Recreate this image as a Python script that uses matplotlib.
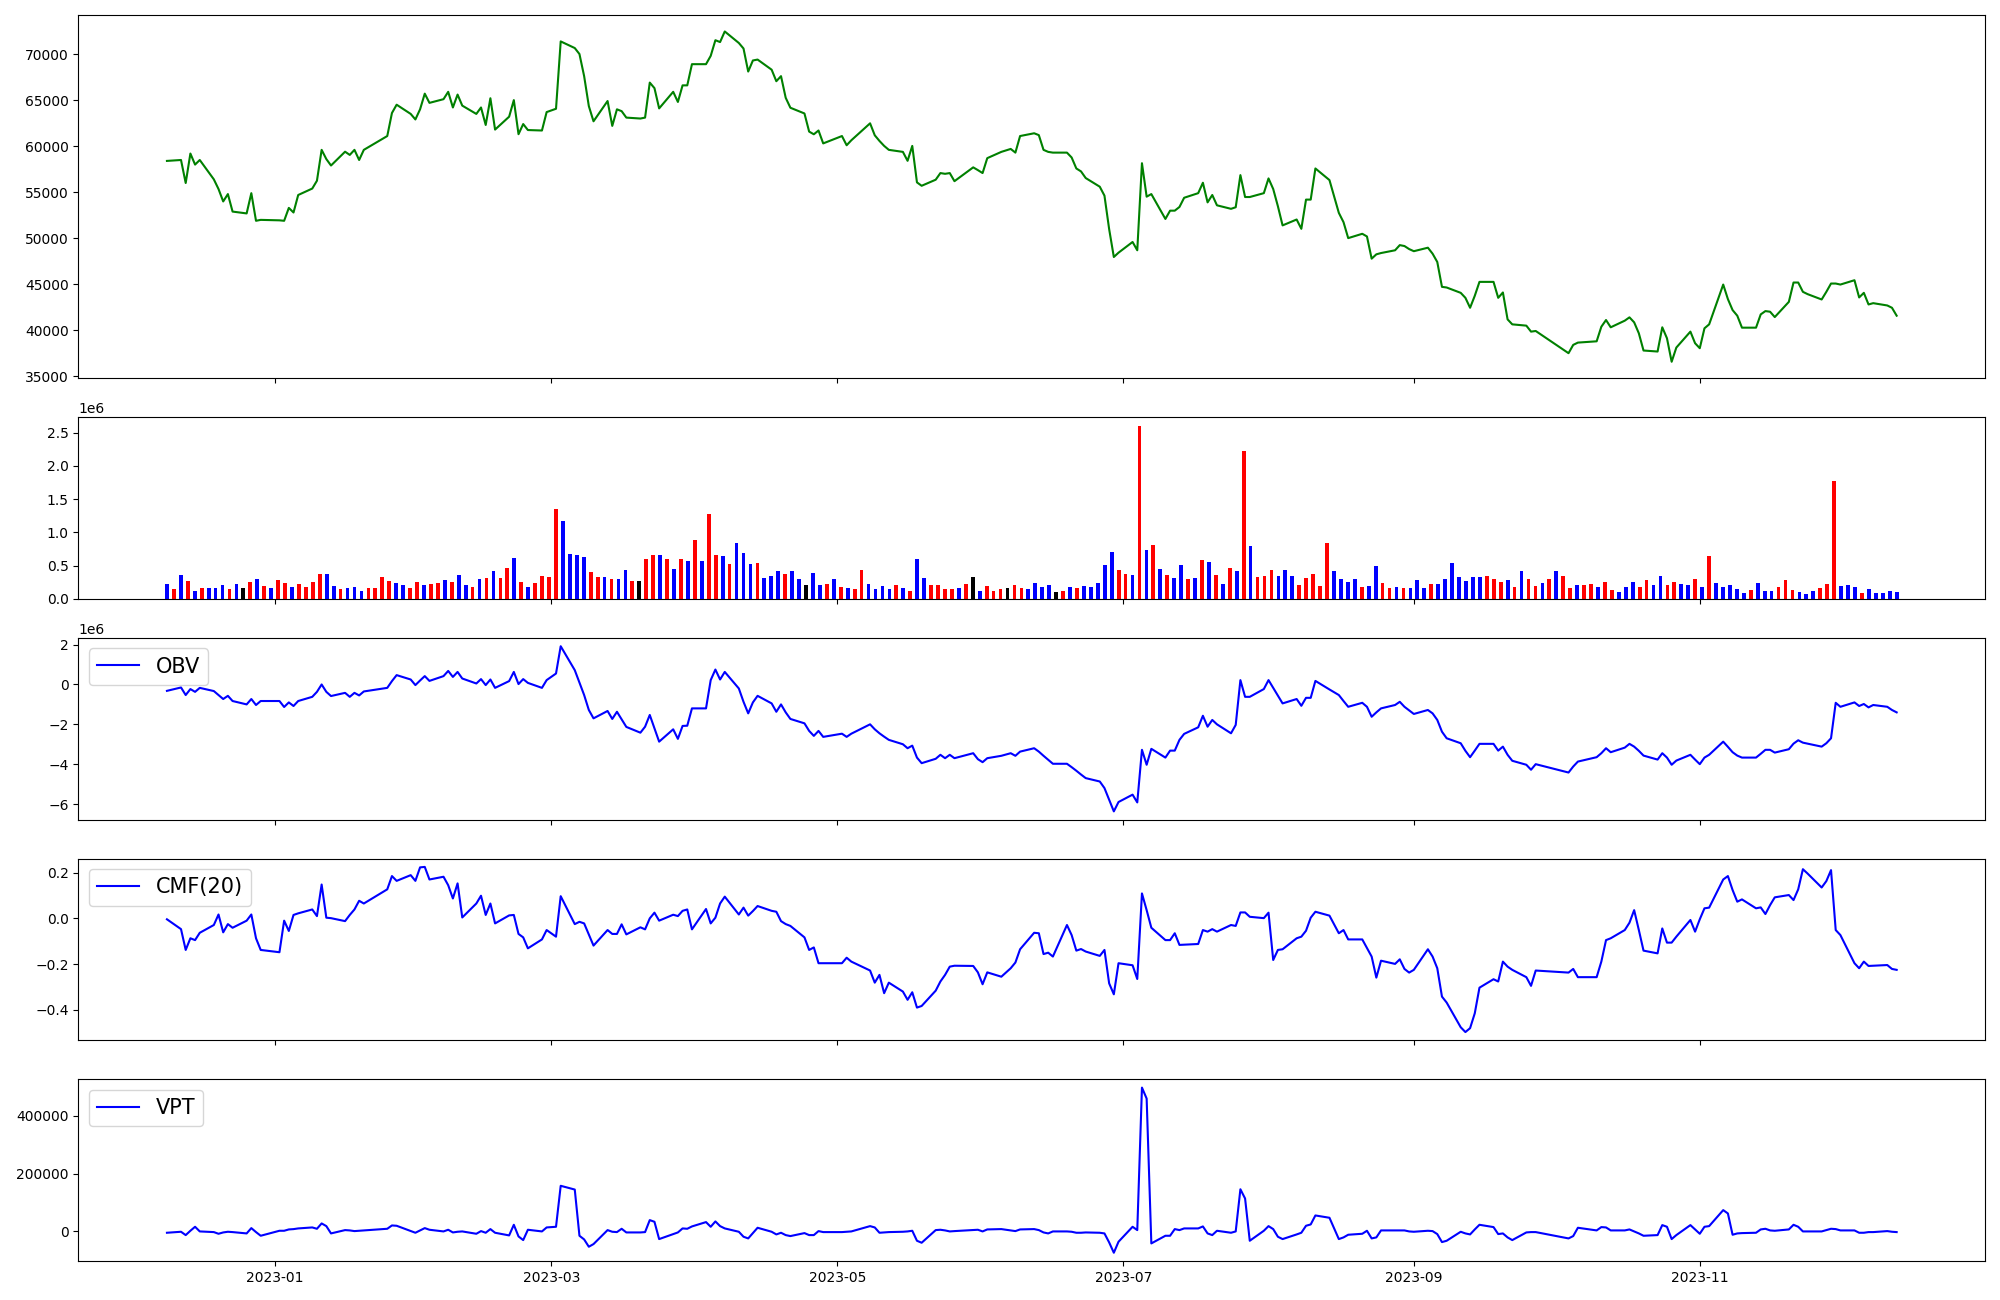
"""Price / volume / OBV / CMF / VPT panel chart."""

import numpy as np
import pandas as pd
import matplotlib
matplotlib.use("Agg")
import matplotlib.pyplot as plt

# ---------------------------------------------------------------------------
# Trading calendar (KRX, 2022-12-09 .. 2023-12-13)
# ---------------------------------------------------------------------------
START, END = "2022-12-09", "2023-12-13"
HOLIDAYS = ["2022-12-30", "2023-01-23", "2023-01-24", "2023-03-01",
            "2023-05-01", "2023-05-05", "2023-05-29", "2023-06-06",
            "2023-08-15", "2023-09-28", "2023-09-29", "2023-10-02",
            "2023-10-03", "2023-10-09"]
dates = pd.bdate_range(START, END)
dates = dates[~dates.isin(pd.to_datetime(HOLIDAYS))]

# ---------------------------------------------------------------------------
# Series
# ---------------------------------------------------------------------------
close = [
    58400, 58500, 56000, 59200, 58000, 58500, 56400, 55350, 54000, 54800,
    52900, 52700, 54900, 51900, 52000, 51950, 51900, 53300, 52800, 54700,
    55400, 56250, 59600, 58600, 57900, 59400, 59050, 59600, 58500, 59600,
    61100, 63600, 64500, 63500, 62900, 64000, 65700, 64700, 65100, 65900,
    64200, 65600, 64400, 63500, 64200, 62300, 65200, 61800, 63200, 65000,
    61300, 62400, 61750, 61700, 63700, 64060, 71370, 70650, 70000, 67600,
    64350, 62700, 64900, 62200, 64000, 63800, 63100, 63000, 63100, 66900,
    66300, 64100, 65900, 64800, 66600, 66600, 68900, 68900, 69800, 71500,
    71300, 72450, 71200, 70600, 68100, 69300, 69400, 68300, 67050, 67600,
    65250, 64170, 63550, 61580, 61290, 61700, 60300, 61100, 60100, 60640,
    62480, 61180, 60570, 60030, 59600, 59380, 58410, 60030, 56070, 55700,
    56360, 57080, 57000, 57080, 56200, 57700, 57400, 57080, 58700, 59380,
    59700, 59300, 61100, 61400, 61200, 59600, 59380, 59300, 59300, 58770,
    57580, 57260, 56540, 55600, 54630, 51000, 47970, 48440, 49600, 48700,
    58150, 54520, 54800, 52100, 53000, 53000, 53400, 54400, 54900, 56030,
    53900, 54700, 53580, 53200, 53370, 56860, 54480, 54480, 54900, 56500,
    55350, 53480, 51400, 52040, 51030, 54200, 54200, 57580, 56320, 52760,
    51750, 50020, 50490, 50200, 47790, 48260, 48400, 48700, 49260, 49160,
    48830, 48600, 48980, 48330, 47430, 44730, 44660, 44080, 43540, 42460,
    43760, 45270, 45270, 43540, 44120, 41200, 40660, 40520, 39870, 39940,
    37530, 38430, 38680, 38820, 40400, 41130, 40340, 41060, 41420, 40880,
    39690, 37820, 37710, 40340, 39150, 36600, 38140, 39870, 38610, 38070,
    40230, 40660, 44980, 43400, 42210, 41600, 40300, 40300, 41740, 42100,
    42030, 41450, 43100, 45200, 45200, 44190, 43940, 43360, 44190, 45090,
    45090, 44980, 45450, 43580, 44080, 42820, 42960, 42710, 42460, 41600,
]

# volume in thousands of shares
volume_k = [
    230, 155, 365, 275, 125, 170, 170, 170, 215, 155,
    230, 170, 260, 305, 200, 170, 290, 245, 185, 230,
    185, 260, 380, 380, 200, 155, 170, 185, 125, 170,
    170, 335, 275, 245, 215, 170, 260, 215, 230, 245,
    290, 260, 365, 215, 185, 305, 320, 425, 320, 470,
    620, 260, 185, 245, 350, 335, 1355, 1175, 680, 665,
    635, 410, 335, 335, 305, 305, 440, 275, 275, 605,
    665, 665, 605, 455, 605, 575, 890, 575, 1280, 665,
    650, 530, 845, 695, 530, 545, 320, 350, 425, 380,
    425, 305, 215, 395, 215, 230, 305, 185, 170, 155,
    440, 230, 155, 200, 155, 215, 170, 125, 605, 320,
    215, 215, 155, 155, 170, 230, 335, 125, 200, 125,
    155, 170, 215, 170, 155, 245, 185, 215, 110, 125,
    185, 170, 200, 185, 245, 515, 710, 440, 380, 365,
    2600, 740, 815, 455, 365, 320, 515, 305, 320, 590,
    560, 365, 230, 470, 425, 2225, 800, 335, 350, 440,
    350, 440, 350, 215, 320, 380, 200, 845, 425, 305,
    260, 305, 185, 200, 500, 245, 170, 185, 170, 170,
    290, 170, 230, 230, 305, 545, 335, 275, 335, 335,
    350, 305, 260, 290, 185, 425, 305, 200, 245, 305,
    425, 350, 170, 215, 215, 230, 185, 260, 140, 110,
    185, 260, 185, 290, 215, 350, 215, 260, 230, 215,
    305, 185, 650, 245, 185, 215, 155, 95, 140, 245,
    125, 125, 185, 290, 140, 110, 80, 125, 170, 230,
    1775, 200, 215, 185, 95, 155, 95, 95, 125, 110,
]

# bar colours: r = up, b = down, k = unchanged
bar_codes = (
    "brbrbrbbbr" "bkrbrbrrbr" "rrrbbrbbbr" "rrrbbrrbrr" "brbbrbrbrr"
    "brbrrrrbbb" "brrbrbbrkr" "rbrbrbrbrr" "brb"
    "bbrbbbrbbk" "bbrbrbrrbb" "bbrbrbbrrr" "rbrkbrrrkr" "rbbbbkrbrb"
    "bbbbrrbrbr" "brbbrbrbrb" "rbrbrrrbbb" "rrrr"
    "rbbbbrbbrr" "brbbbrbbbb" "bbbrrrbrbr" "rbrbrrbrrb" "rrbbbrrbbr"
    "rbbrbrbbbb" "brbbbrrrbb" "brrrbbbrbb" "bbb"
)

# OBV in millions
obv_m = [
    -0.32, -0.15, -0.53, -0.23, -0.37, -0.17, -0.33, -0.53, -0.73, -0.57,
    -0.83, -1.00, -0.73, -1.03, -0.83, -0.83, -1.13, -0.90, -1.08, -0.83,
    -0.62, -0.37, 0.00, -0.37, -0.58, -0.42, -0.62, -0.42, -0.55, -0.35,
    -0.17, 0.17, 0.47, 0.25, -0.03, 0.20, 0.42, 0.18, 0.42, 0.68,
    0.38, 0.63, 0.30, 0.05, 0.27, -0.03, 0.25, -0.17, 0.17, 0.63,
    0.02, 0.27, 0.08, -0.17, 0.22, 0.55, 1.92, 0.72, 0.10, -0.53,
    -1.28, -1.70, -1.33, -1.73, -1.37, -1.75, -2.13, -2.42, -2.12, -1.53,
    -2.20, -2.87, -2.25, -2.73, -2.08, -2.07, -1.20, -1.20, 0.22, 0.75,
    0.25, 0.63, -0.20, -0.87, -1.45, -0.90, -0.57, -0.95, -1.37, -1.00,
    -1.40, -1.73, -1.95, -2.33, -2.58, -2.33, -2.63, -2.47, -2.63, -2.47,
    -2.00, -2.25, -2.45, -2.62, -2.78, -3.00, -3.20, -3.07, -3.67, -3.95,
    -3.73, -3.53, -3.70, -3.53, -3.70, -3.45, -3.75, -3.90, -3.70, -3.58,
    -3.45, -3.58, -3.37, -3.20, -3.37, -3.58, -3.78, -3.98, -3.98, -4.15,
    -4.33, -4.52, -4.70, -4.87, -5.20, -5.78, -6.37, -5.90, -5.53, -5.92,
    -3.28, -4.03, -3.23, -3.67, -3.32, -3.32, -2.78, -2.48, -2.15, -1.57,
    -2.12, -1.78, -2.00, -2.45, -2.03, 0.22, -0.62, -0.62, -0.23, 0.22,
    -0.17, -0.57, -0.95, -0.73, -1.07, -0.67, -0.67, 0.18, -0.25, -0.53,
    -0.83, -1.12, -0.92, -1.12, -1.62, -1.40, -1.20, -1.03, -0.87, -1.12,
    -1.30, -1.48, -1.28, -1.45, -1.78, -2.37, -2.70, -2.95, -3.33, -3.65,
    -3.32, -2.98, -2.98, -3.32, -3.12, -3.53, -3.83, -4.03, -4.28, -4.00,
    -4.42, -4.12, -3.87, -3.65, -3.45, -3.20, -3.40, -3.17, -2.98, -3.12,
    -3.33, -3.57, -3.77, -3.45, -3.67, -4.03, -3.82, -3.53, -3.77, -4.00,
    -3.67, -3.53, -2.87, -3.13, -3.40, -3.57, -3.67, -3.67, -3.48, -3.28,
    -3.28, -3.42, -3.25, -2.97, -2.80, -2.92, -2.97, -3.12, -2.95, -2.70,
    -0.92, -1.12, -0.90, -1.08, -0.98, -1.15, -1.03, -1.12, -1.28, -1.40,
]

cmf20 = [
    -0.004, -0.047, -0.138, -0.087, -0.095, -0.063, -0.029, 0.017, -0.061, -0.025,
    -0.041, -0.010, 0.017, -0.087, -0.138, -0.148, -0.010, -0.055, 0.015, 0.022,
    0.039, 0.010, 0.148, 0.003, 0.001, -0.012, 0.015, 0.039, 0.077, 0.065,
    0.127, 0.185, 0.164, 0.189, 0.164, 0.223, 0.225, 0.170, 0.182, 0.145,
    0.087, 0.153, 0.004, 0.065, 0.099, 0.015, 0.065, -0.022, 0.013, 0.015,
    -0.068, -0.083, -0.131, -0.092, -0.051, -0.080, 0.097, -0.025, -0.015, -0.022,
    -0.070, -0.119, -0.051, -0.068, -0.068, -0.026, -0.070, -0.039, -0.048, 0.000,
    0.025, -0.010, 0.016, 0.010, 0.033, 0.039, -0.048, 0.041, -0.022, 0.003,
    0.065, 0.095, 0.017, 0.047, 0.012, 0.032, 0.054, 0.033, 0.029, -0.012,
    -0.025, -0.033, -0.083, -0.138, -0.127, -0.196, -0.196, -0.196, -0.172, -0.189,
    -0.228, -0.281, -0.247, -0.327, -0.281, -0.320, -0.356, -0.323, -0.390, -0.383,
    -0.316, -0.276, -0.247, -0.211, -0.207, -0.208, -0.236, -0.288, -0.236, -0.255,
    -0.218, -0.193, -0.135, -0.063, -0.065, -0.156, -0.150, -0.167, -0.029, -0.073,
    -0.141, -0.134, -0.145, -0.164, -0.138, -0.284, -0.332, -0.196, -0.205, -0.265,
    0.109, 0.036, -0.041, -0.095, -0.095, -0.065, -0.116, -0.115, -0.112, -0.051,
    -0.058, -0.047, -0.058, -0.029, -0.033, 0.026, 0.026, 0.007, 0.001, 0.025,
    -0.182, -0.138, -0.135, -0.087, -0.080, -0.054, 0.003, 0.029, 0.012, -0.065,
    -0.051, -0.092, -0.092, -0.130, -0.167, -0.259, -0.185, -0.199, -0.179, -0.221,
    -0.237, -0.225, -0.135, -0.167, -0.218, -0.342, -0.368, -0.476, -0.497, -0.480,
    -0.415, -0.303, -0.266, -0.276, -0.189, -0.211, -0.225, -0.257, -0.295, -0.228,
    -0.237, -0.221, -0.257, -0.257, -0.189, -0.095, -0.087, -0.051, -0.019, 0.036,
    -0.051, -0.141, -0.153, -0.044, -0.106, -0.106, -0.080, -0.007, -0.058, -0.004,
    0.044, 0.047, 0.170, 0.185, 0.124, 0.073, 0.083, 0.044, 0.048, 0.019,
    0.058, 0.092, 0.102, 0.080, 0.127, 0.215, 0.196, 0.135, 0.163, 0.211,
    -0.051, -0.073, -0.196, -0.218, -0.189, -0.208, -0.207, -0.204, -0.221, -0.225,
]

vpt = [
    -4600, -1150, -12700, 2300, 16100, 0, -2300, -8100, -3500, -1150,
    -2300, -6900, 11500, -2300, -15000, 2300, 2300, 6900, 8000, 10400,
    13800, 9200, 27700, 18400, -6900, 4600, 3500, 1150, 2300, 3500,
    9200, 20700, 19600, 1150, -4600, 3500, 11500, 5800, 0, 5800,
    -3500, -1150, 0, -8100, 1150, -4600, 8100, -4600, -13800, 23000,
    -17300, -30000, 5800, 0, 13800, 16100, 158000, 145000, -15000, -27700,
    -53000, -43800, 4600, -1150, -2300, 9200, -3500, -3500, -2300, 39200,
    33400, -26500, -9200, -3500, 10400, 9200, 17300, 32300, 16100, 34600,
    18400, 10400, -1150, -18400, -24200, -5800, 12700, -1150, -10400, -4600,
    -12700, -16100, -5800, -12700, -12700, 1150, -2300, -2300, -1150, 0,
    18400, 13800, -4600, -3500, -2300, -1150, 0, 2300, -32300, -39200,
    4600, 5800, 3500, 0, 1150, 4600, 5800, 0, 6900, 8100,
    3500, 1150, 6900, 8100, 4600, -3500, -6900, 0, 0, -1150,
    -4600, -4600, -3500, -4600, -6900, -38000, -73800, -35700, 16100, 4600,
    498000, 460000, -41500, -15000, -15000, 8100, 4600, 10400, 10400, 17300,
    -6900, -12700, 2300, -4600, 0, 146000, 114000, -32300, 2300, 18400,
    8100, -18400, -26500, -10400, -4600, 19600, 24200, 55300, 47300, -26500,
    -20700, -11500, -8100, 2300, -24200, -20700, 3500, 3500, 3500, 3500,
    0, -1150, 2300, 1150, -9200, -36900, -32300, -1150, -6900, -10400,
    6900, 23000, 15000, -9200, -6900, -20700, -30000, -3500, -2300, -2300,
    -24200, -16100, 12700, 3500, 15000, 13800, 3500, 3500, 6900, 0,
    -6900, -15000, -12700, 21900, 16100, -26500, -12700, 21900, 6900, -8100,
    16100, 18400, 73800, 62200, -11500, -6900, -5800, -4600, 6900, 9200,
    3500, 2300, 6900, 23000, 16100, 0, 0, 0, 4600, 9200,
    8100, 3500, 3500, -4600, -4600, -2300, -2300, 1150, -1150, -2300,
]

# ---------------------------------------------------------------------------
# Style
# ---------------------------------------------------------------------------
CODE_COLORS = {"r": "red", "b": "blue", "k": "black"}
LEGEND_SIZE = 15

n = len(dates)
assert all(len(s) == n for s in (close, volume_k, bar_codes, obv_m, cmf20, vpt))

volume = np.array(volume_k) * 1000
obv = np.array(obv_m) * 1e6
bar_colors = [CODE_COLORS[c] for c in bar_codes]
# the volume bars sit on an evenly spaced grid across the same date span
bar_x = pd.date_range(dates[0], dates[-1], periods=n)

fig, axes = plt.subplots(
    5, 1, figsize=(20, 13), dpi=100, sharex=True,
    gridspec_kw=dict(height_ratios=[2, 1, 1, 1, 1],
                     left=0.0392, right=0.9926, top=0.9885, bottom=0.0300,
                     hspace=0.179),
)
ax_p, ax_v, ax_obv, ax_cmf, ax_vpt = axes

ax_p.plot(dates, close, color="green")

ax_v.bar(bar_x, volume, color=bar_colors)

ax_obv.plot(dates, obv, color="blue", label="OBV")
ax_obv.legend(loc="upper left", fontsize=LEGEND_SIZE)

ax_cmf.plot(dates, cmf20, color="blue", label="CMF(20)")
ax_cmf.legend(loc="upper left", fontsize=LEGEND_SIZE)

ax_vpt.plot(dates, vpt, color="blue", label="VPT")
ax_vpt.legend(loc="upper left", fontsize=LEGEND_SIZE)

fig.savefig("out.png", dpi=100)
